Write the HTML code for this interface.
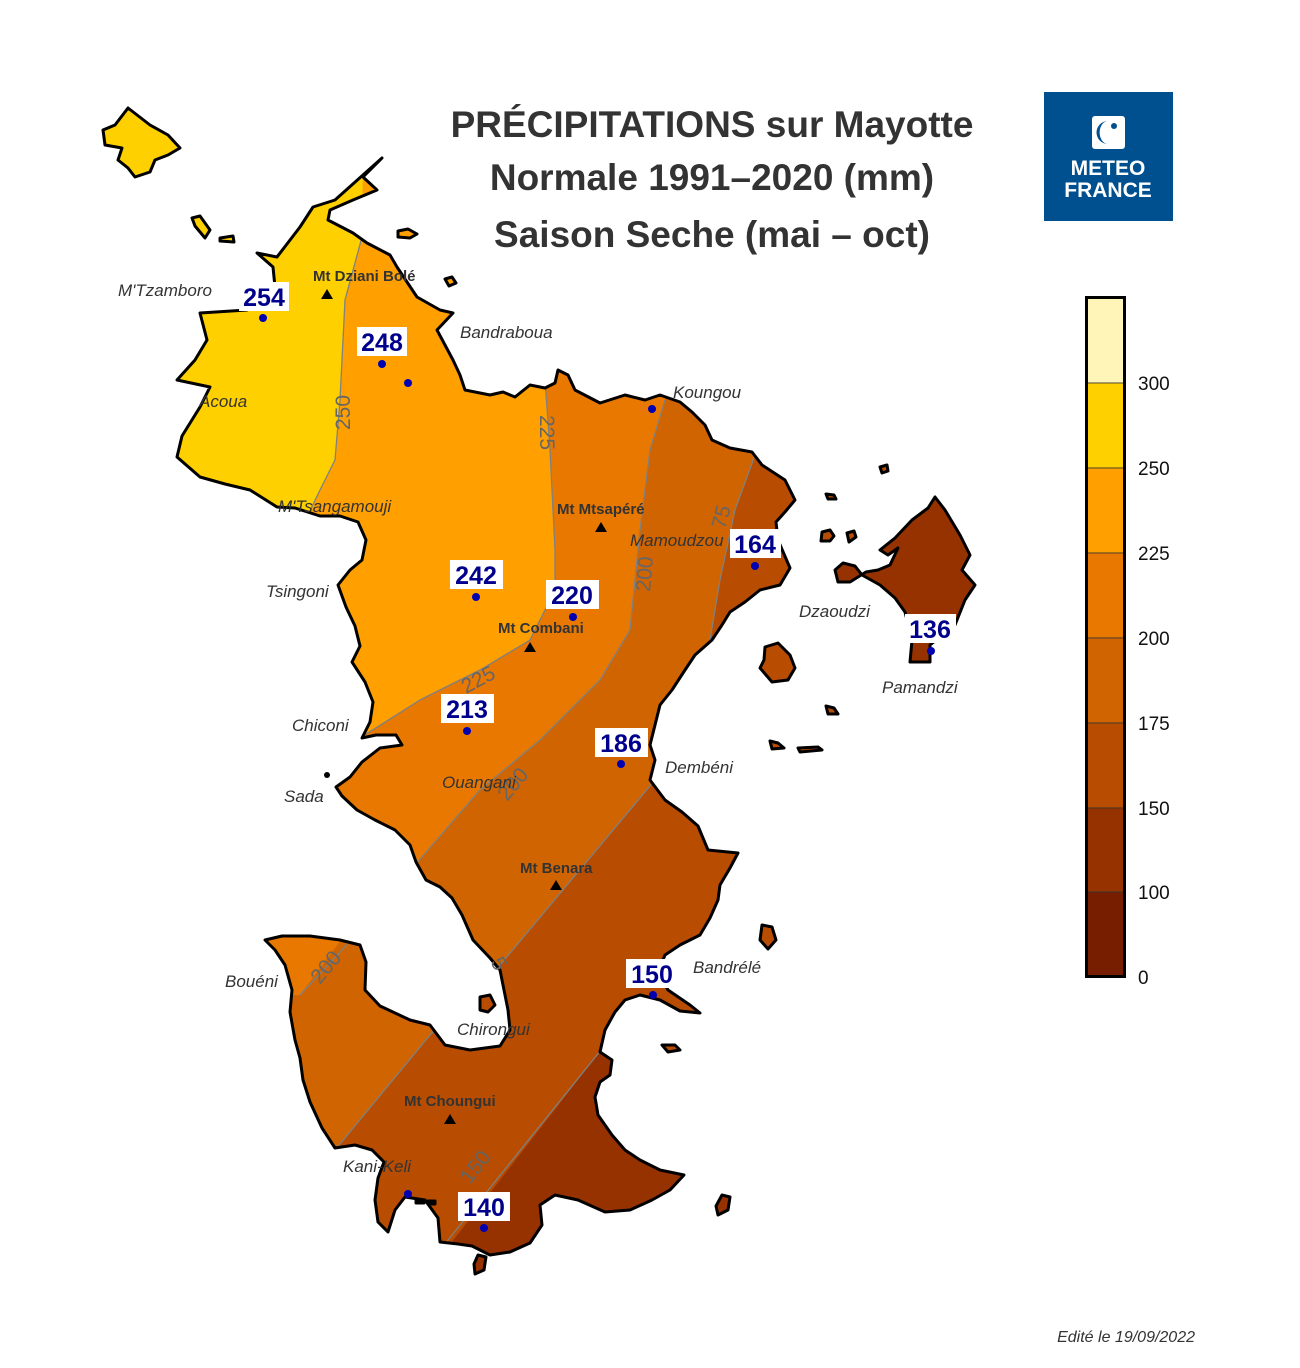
<!DOCTYPE html>
<html><head><meta charset="utf-8"><style>
html,body{margin:0;padding:0;background:#fff}
svg{display:block}
text{font-family:"Liberation Sans",sans-serif}
</style></head><body>
<svg width="1300" height="1368" viewBox="0 0 1300 1368" xmlns="http://www.w3.org/2000/svg">
<defs>
<clipPath id="main"><path id="mp" d="M382,158 L363,177 L377,190 L353,200 L330,210 L328,220 L353,233 L367,243 L390,255 L397,267 L417,297 L440,310 L453,313 L437,330 L445,345 L453,360 L460,375 L465,390 L490,395 L503,392 L515,397 L530,385 L545,388 L555,383 L558,370 L568,375 L575,390 L600,403 L625,395 L645,400 L660,395 L680,402 L692,412 L705,425 L712,440 L730,448 L752,452 L762,465 L785,480 L795,500 L785,512 L776,522 L778,540 L790,568 L780,585 L760,590 L745,602 L730,612 L722,625 L712,640 L695,655 L685,670 L672,690 L660,705 L655,725 L650,745 L655,760 L650,780 L665,800 L682,812 L698,826 L708,850 L738,853 L730,868 L720,885 L718,900 L710,918 L700,935 L680,945 L665,955 L658,972 L668,990 L690,1005 L700,1013 L680,1011 L660,1000 L640,995 L625,1000 L615,1012 L605,1030 L600,1052 L612,1060 L610,1075 L600,1082 L595,1097 L598,1115 L612,1135 L625,1150 L640,1160 L660,1170 L684,1175 L670,1190 L652,1200 L630,1210 L605,1212 L578,1200 L555,1195 L540,1205 L542,1225 L530,1243 L510,1252 L490,1255 L472,1246 L458,1244 L440,1242 L438,1218 L425,1200 L405,1197 L395,1210 L388,1232 L378,1222 L375,1200 L378,1178 L384,1162 L372,1150 L355,1145 L335,1148 L322,1128 L310,1102 L303,1080 L300,1058 L295,1040 L290,1012 L292,990 L285,965 L275,950 L265,940 L282,936 L310,936 L340,940 L360,945 L366,962 L365,990 L380,1006 L410,1020 L430,1025 L445,1045 L470,1050 L500,1046 L510,1030 L508,1010 L504,990 L500,970 L490,958 L473,940 L462,915 L452,898 L440,887 L426,880 L416,862 L410,845 L395,830 L375,820 L357,810 L342,796 L336,787 L350,777 L362,762 L380,748 L402,745 L396,735 L376,735 L362,738 L370,722 L373,702 L365,682 L352,662 L360,646 L355,626 L346,607 L338,585 L350,570 L362,560 L366,540 L358,522 L340,516 L320,516 L295,508 L277,507 L250,490 L225,484 L200,477 L177,457 L182,436 L200,407 L210,387 L177,380 L195,360 L207,340 L200,313 L247,310 L275,287 L273,267 L257,253 L277,257 L300,227 L313,207 L335,200 Z"/></clipPath>
</defs>

<g fill="#333" font-weight="bold" font-size="37" text-anchor="middle">
<text x="712" y="137">PRÉCIPITATIONS sur Mayotte</text>
<text x="712" y="190">Normale 1991–2020 (mm)</text>
<text x="712" y="247">Saison Seche (mai – oct)</text>
</g>

<rect x="1044" y="92" width="129" height="129" fill="#00508f"/>
<rect x="1092" y="116" width="33" height="33" rx="3" fill="#fff"/>
<path d="M1108,121 a11,11 0 1,0 0,23 a8,11 0 0,1 0,-23z" fill="#00508f"/>
<circle cx="1114" cy="126" r="3" fill="#00508f"/>
<g fill="#fff" font-weight="bold" font-size="21" text-anchor="middle">
<text x="1108" y="175">METEO</text>
<text x="1108" y="197">FRANCE</text>
</g>

<g clip-path="url(#main)">
<rect x="0" y="0" width="900" height="1300" fill="#b84c00"/>
<polygon points="430,1270 605,1045 800,1045 800,1300" fill="#963200"/>
<polygon points="0,0 760,0 755,455 735,510 720,580 710,640 655,780 500,965 430,1035 335,1150 300,1200 0,1200" fill="#d06400"/>
<polygon points="0,0 665,0 665,400 650,450 640,530 630,630 600,680 540,740 480,790 415,865 0,865" fill="#e87800"/>
<polygon points="250,920 356,920 300,995 250,995" fill="#e87800"/>
<polygon points="0,0 545,0 545,380 550,450 555,550 555,590 530,640 480,670 420,700 360,738 0,740" fill="#ffa000"/>
<polygon points="0,0 365,0 362,237 345,300 340,400 335,460 320,490 307,517 0,517" fill="#ffd000"/>
<g fill="none" stroke="#808080" stroke-width="1.3">
<polyline points="362,237 345,300 340,400 335,460 320,490 307,517"/>
<polyline points="545,380 550,450 555,550 555,590 530,640 480,670 420,700 360,738"/>
<polyline points="665,400 650,450 640,530 630,630 600,680 540,740 480,790 415,865"/>
<polyline points="356,935 300,995"/>
<polyline points="755,455 735,510 720,580 710,640"/>
<polyline points="655,780 500,965 430,1035 335,1150"/>
<polyline points="605,1045 440,1250"/>
</g>
</g>
<use href="#mp" fill="none" stroke="#000" stroke-width="3" stroke-linejoin="round"/>

<g stroke="#000" stroke-width="3" stroke-linejoin="round">
<path d="M128,108 L150,125 L168,135 L180,148 L168,155 L155,160 L150,172 L135,177 L128,168 L118,160 L122,148 L105,145 L103,130 L115,125 Z" fill="#ffd000"/>
<path d="M192,218 L200,216 L210,230 L205,238 L195,226 Z" fill="#ffd000"/>
<path d="M220,238 L233,236 L234,242 L220,241 Z" fill="#ffd000"/>
<path d="M398,231 L408,229 L417,234 L410,238 L398,237 Z" fill="#ffa000"/>
<path d="M445,279 L452,277 L456,283 L449,286 Z" fill="#ffa000"/>
<path d="M880,467 L887,465 L888,471 L882,473 Z" fill="#b84c00"/>
<path d="M826,494 L834,495 L836,499 L828,499 Z" fill="#b84c00"/>
<path d="M822,532 L830,530 L834,536 L830,541 L821,541 Z" fill="#b84c00"/>
<path d="M847,533 L854,531 L856,537 L849,542 Z" fill="#b84c00"/>
<path d="M835,570 L843,563 L855,566 L862,575 L880,585 L895,598 L905,612 L912,640 L910,662 L930,662 L930,645 L955,625 L965,600 L975,585 L962,570 L970,555 L960,535 L945,510 L935,497 L928,508 L912,520 L895,538 L880,550 L888,555 L898,548 L890,565 L878,570 L866,572 L850,582 L838,582 Z" fill="#963200"/>
<path d="M765,647 L778,643 L790,655 L795,668 L788,680 L772,682 L760,668 L764,660 Z" fill="#b84c00"/>
<path d="M826,706 L834,708 L838,714 L828,714 Z" fill="#b84c00"/>
<path d="M770,741 L778,743 L784,748 L772,749 Z" fill="#b84c00"/>
<path d="M798,748 L818,747 L822,750 L800,752 Z" fill="#b84c00"/>
<path d="M762,925 L772,927 L776,940 L768,949 L760,940 Z" fill="#b84c00"/>
<path d="M480,997 L490,995 L495,1005 L488,1012 L480,1010 Z" fill="#b84c00"/>
<path d="M662,1045 L675,1045 L680,1050 L668,1052 Z" fill="#b84c00"/>
<path d="M722,1195 L730,1197 L728,1210 L718,1215 L716,1206 Z" fill="#963200"/>
<path d="M478,1255 L486,1257 L484,1270 L475,1274 L474,1264 Z" fill="#963200"/>
<path d="M416,1200 L424,1200 L424,1203 L416,1203 Z" fill="#963200"/>
<path d="M428,1201 L435,1201 L435,1204 L428,1204 Z" fill="#963200"/>
</g>
<circle cx="327" cy="775" r="3" fill="#000"/>

<g fill="#666" font-size="21">
<text transform="translate(350,430) rotate(-90)">250</text>
<text transform="translate(540,415) rotate(90)">225</text>
<text transform="translate(466,694) rotate(-28)">225</text>
<text transform="translate(650,592) rotate(-85)">200</text>
<text transform="translate(507,802) rotate(-50)">200</text>
<text transform="translate(320,985) rotate(-50)">200</text>
<text transform="translate(725,530) rotate(-75)">75</text>
<text transform="translate(490,962) rotate(60)">5</text>
<text transform="translate(470,1185) rotate(-52)">150</text>
</g>

<g fill="#333" font-weight="bold" font-size="15">
<text x="313" y="281">Mt Dziani Bolé</text>
<text x="557" y="514">Mt Mtsapéré</text>
<text x="498" y="633">Mt Combani</text>
<text x="520" y="873">Mt Benara</text>
<text x="404" y="1106">Mt Choungui</text>
</g>
<g fill="#000">
<polygon points="327,289 333,299 321,299"/>
<polygon points="601,522 607,532 595,532"/>
<polygon points="530,642 536,652 524,652"/>
<polygon points="556,880 562,890 550,890"/>
<polygon points="450,1114 456,1124 444,1124"/>
</g>

<g fill="#333" font-style="italic" font-size="17">
<text x="118" y="296">M'Tzamboro</text>
<text x="460" y="338">Bandraboua</text>
<text x="199" y="407">Acoua</text>
<text x="673" y="398">Koungou</text>
<text x="278" y="512">M'Tsangamouji</text>
<text x="630" y="546">Mamoudzou</text>
<text x="266" y="597">Tsingoni</text>
<text x="799" y="617">Dzaoudzi</text>
<text x="882" y="693">Pamandzi</text>
<text x="292" y="731">Chiconi</text>
<text x="665" y="773">Dembéni</text>
<text x="442" y="788">Ouangani</text>
<text x="284" y="802">Sada</text>
<text x="693" y="973">Bandrélé</text>
<text x="225" y="987">Bouéni</text>
<text x="457" y="1035">Chirongui</text>
<text x="343" y="1172">Kani-Keli</text>
</g>

<g fill="#fff">
<rect x="239" y="282" width="50" height="29"/>
<rect x="357" y="327" width="50" height="29"/>
<rect x="450" y="560" width="53" height="29"/>
<rect x="546" y="580" width="53" height="29"/>
<rect x="441" y="694" width="53" height="29"/>
<rect x="595" y="728" width="53" height="29"/>
<rect x="730" y="529" width="51" height="29"/>
<rect x="905" y="614" width="51" height="29"/>
<rect x="626" y="959" width="52" height="29"/>
<rect x="458" y="1192" width="52" height="29"/>
</g>
<g fill="#00008c" font-weight="bold" font-size="25" text-anchor="middle">
<text x="264" y="306">254</text>
<text x="382" y="351">248</text>
<text x="476" y="584">242</text>
<text x="572" y="604">220</text>
<text x="467" y="718">213</text>
<text x="621" y="752">186</text>
<text x="755" y="553">164</text>
<text x="930" y="638">136</text>
<text x="652" y="983">150</text>
<text x="484" y="1216">140</text>
</g>
<g fill="#0000b0">
<circle cx="263" cy="318" r="4"/><circle cx="382" cy="364" r="4"/><circle cx="408" cy="383" r="4"/>
<circle cx="476" cy="597" r="4"/><circle cx="573" cy="617" r="4"/><circle cx="467" cy="731" r="4"/>
<circle cx="621" cy="764" r="4"/><circle cx="652" cy="409" r="4"/><circle cx="755" cy="566" r="4"/>
<circle cx="931" cy="651" r="4"/><circle cx="653" cy="995" r="4"/><circle cx="484" cy="1228" r="4"/>
<circle cx="408" cy="1194" r="4"/>
</g>

<g stroke="#333" stroke-width="0.8">
<rect x="1087" y="298" width="37" height="85" fill="#fff5b8"/>
<rect x="1087" y="383" width="37" height="85" fill="#ffd000"/>
<rect x="1087" y="468" width="37" height="85" fill="#ffa000"/>
<rect x="1087" y="553" width="37" height="85" fill="#e87800"/>
<rect x="1087" y="638" width="37" height="85" fill="#d06400"/>
<rect x="1087" y="723" width="37" height="85" fill="#b84c00"/>
<rect x="1087" y="808" width="37" height="84" fill="#963200"/>
<rect x="1087" y="892" width="37" height="85" fill="#781e00"/>
</g>
<rect x="1086.5" y="297.5" width="38" height="679" fill="none" stroke="#000" stroke-width="3"/>
<g fill="#111" font-size="19">
<text x="1138" y="390">300</text><text x="1138" y="475">250</text><text x="1138" y="560">225</text>
<text x="1138" y="645">200</text><text x="1138" y="730">175</text><text x="1138" y="815">150</text>
<text x="1138" y="899">100</text><text x="1138" y="984">0</text>
</g>

<text x="1195" y="1342" text-anchor="end" fill="#333" font-style="italic" font-size="16">Edité le 19/09/2022</text>
</svg>
</body></html>
